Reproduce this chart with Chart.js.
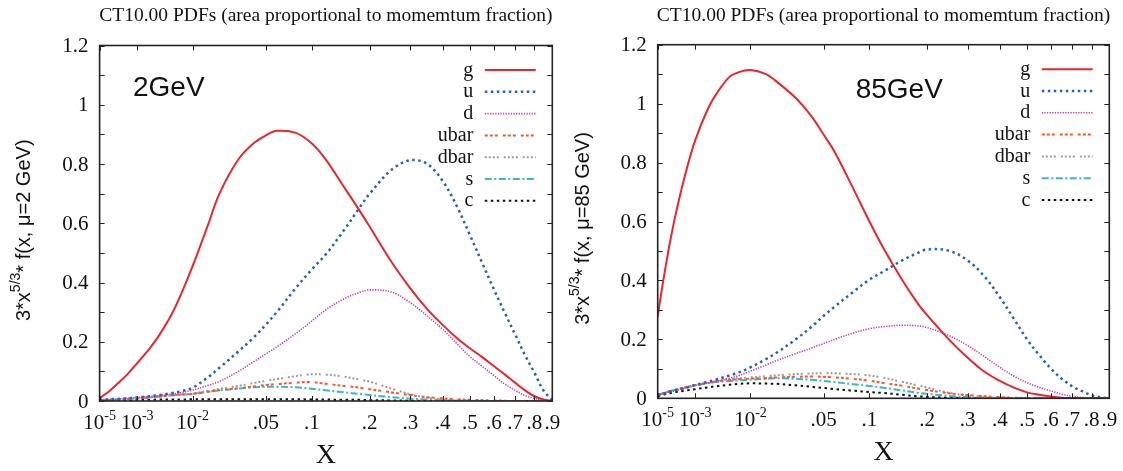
<!DOCTYPE html>
<html>
<head>
<meta charset="utf-8">
<script src="https://cdn.jsdelivr.net/npm/chart.js@4.4.1/dist/chart.umd.min.js"></script>
<style>
  body { margin: 0; background: #fff; width: 1123px; height: 471px; overflow: hidden; position: relative; }
  canvas { position: absolute; top: 0; }
</style>
</head>
<body>
<canvas id="c1" width="561" height="471" style="left:0"></canvas>
<canvas id="c2" width="562" height="471" style="left:561px"></canvas>
<script>
// momentum fraction x of the sampled points
const xs = [1e-5, 2e-5, 5e-5, 1e-4, 2e-4, 5e-4, 1e-3, 2e-3, 3e-3, 5e-3, 7e-3, 0.01, 0.015, 0.02, 0.03, 0.04, 0.05, 0.06, 0.08, 0.1,
            0.12, 0.15, 0.18, 0.2, 0.25, 0.3, 0.35, 0.4, 0.45, 0.5, 0.55, 0.6, 0.65, 0.7, 0.75, 0.8, 0.85, 0.9];

// 3*x^(5/3)*f(x) at mu = 2 GeV
const g2    = [0.009, 0.016, 0.027, 0.040, 0.058, 0.090, 0.128, 0.178, 0.218, 0.290, 0.360, 0.455, 0.590, 0.700, 0.815, 0.869, 0.897, 0.912, 0.905, 0.869,
               0.815, 0.722, 0.640, 0.588, 0.470, 0.380, 0.310, 0.257, 0.213, 0.178, 0.148, 0.118, 0.090, 0.062, 0.036, 0.016, 0.005, 0.0];
const u2    = [0.003, 0.004, 0.005, 0.006, 0.007, 0.009, 0.012, 0.016, 0.020, 0.026, 0.033, 0.045, 0.079, 0.112, 0.167, 0.213, 0.258, 0.301, 0.382, 0.444,
               0.495, 0.577, 0.655, 0.700, 0.780, 0.813, 0.800, 0.743, 0.658, 0.560, 0.466, 0.378, 0.298, 0.225, 0.155, 0.095, 0.035, 0.003];
const d2    = [0.003, 0.004, 0.005, 0.006, 0.007, 0.009, 0.012, 0.015, 0.018, 0.023, 0.028, 0.037, 0.052, 0.066, 0.100, 0.132, 0.159, 0.183, 0.228, 0.270,
               0.308, 0.345, 0.367, 0.375, 0.368, 0.332, 0.287, 0.242, 0.194, 0.150, 0.117, 0.086, 0.057, 0.036, 0.018, 0.009, 0.003, 0.0];
const ubar2 = [0.002, 0.003, 0.003, 0.004, 0.005, 0.007, 0.009, 0.012, 0.015, 0.019, 0.022, 0.024, 0.031, 0.036, 0.043, 0.049, 0.054, 0.057, 0.062, 0.064,
               0.058, 0.051, 0.045, 0.040, 0.029, 0.020, 0.013, 0.009, 0.006, 0.004, 0.003, 0.002, 0.001, 0, 0, 0, 0, 0];
const dbar2 = [0.002, 0.003, 0.003, 0.004, 0.005, 0.007, 0.009, 0.012, 0.015, 0.019, 0.022, 0.025, 0.034, 0.041, 0.051, 0.060, 0.068, 0.074, 0.084, 0.090,
               0.089, 0.082, 0.072, 0.065, 0.042, 0.023, 0.011, 0.005, 0.002, 0.001, 0, 0, 0, 0, 0, 0, 0, 0];
const s2    = [0.002, 0.003, 0.003, 0.004, 0.005, 0.007, 0.009, 0.012, 0.015, 0.019, 0.021, 0.024, 0.031, 0.036, 0.042, 0.046, 0.048, 0.048, 0.046, 0.041,
               0.036, 0.029, 0.024, 0.020, 0.013, 0.008, 0.005, 0.003, 0.002, 0.001, 0, 0, 0, 0, 0, 0, 0, 0];
const c2    = [0.001, 0.002, 0.002, 0.002, 0.003, 0.003, 0.004, 0.004, 0.005, 0.005, 0.005, 0.006, 0.006, 0.006, 0.006, 0.006, 0.006, 0.006, 0.006, 0.005,
               0.005, 0.004, 0.004, 0.003, 0.002, 0.001, 0, 0, 0, 0, 0, 0, 0, 0, 0, 0, 0, 0];

// 3*x^(5/3)*f(x) at mu = 85 GeV
const g85    = [0.277, 0.338, 0.435, 0.523, 0.620, 0.761, 0.876, 0.981, 1.033, 1.090, 1.107, 1.114, 1.101, 1.073, 1.018, 0.959, 0.895, 0.836, 0.710, 0.600,
                0.510, 0.405, 0.323, 0.282, 0.200, 0.138, 0.090, 0.059, 0.036, 0.020, 0.012, 0.006, 0.002, 0.001, 0, 0, 0, 0];
const u85    = [0.010, 0.013, 0.017, 0.022, 0.027, 0.035, 0.045, 0.056, 0.064, 0.077, 0.088, 0.105, 0.132, 0.156, 0.201, 0.241, 0.280, 0.311, 0.362, 0.403,
                0.430, 0.467, 0.493, 0.505, 0.501, 0.468, 0.413, 0.343, 0.269, 0.200, 0.146, 0.101, 0.066, 0.041, 0.024, 0.011, 0.003, 0.0];
const d85    = [0.010, 0.013, 0.017, 0.021, 0.026, 0.034, 0.043, 0.052, 0.058, 0.068, 0.077, 0.092, 0.112, 0.129, 0.152, 0.170, 0.186, 0.200, 0.222, 0.236,
                0.243, 0.248, 0.246, 0.240, 0.213, 0.179, 0.141, 0.105, 0.075, 0.053, 0.037, 0.025, 0.014, 0.007, 0.003, 0.001, 0, 0];
const ubar85 = [0.011, 0.014, 0.019, 0.024, 0.029, 0.037, 0.045, 0.052, 0.057, 0.062, 0.065, 0.067, 0.069, 0.071, 0.073, 0.074, 0.073, 0.071, 0.066, 0.060,
                0.052, 0.043, 0.033, 0.028, 0.017, 0.011, 0.007, 0.004, 0.002, 0.001, 0, 0, 0, 0, 0, 0, 0, 0];
const dbar85 = [0.011, 0.014, 0.019, 0.024, 0.029, 0.037, 0.045, 0.053, 0.058, 0.064, 0.068, 0.071, 0.075, 0.078, 0.082, 0.084, 0.085, 0.085, 0.082, 0.077,
                0.070, 0.056, 0.044, 0.037, 0.019, 0.010, 0.005, 0.002, 0.001, 0, 0, 0, 0, 0, 0, 0, 0, 0];
const s85    = [0.011, 0.014, 0.019, 0.024, 0.029, 0.037, 0.044, 0.051, 0.055, 0.059, 0.061, 0.063, 0.066, 0.068, 0.066, 0.063, 0.059, 0.055, 0.048, 0.042,
                0.036, 0.027, 0.019, 0.015, 0.008, 0.004, 0.002, 0.001, 0, 0, 0, 0, 0, 0, 0, 0, 0, 0];
const c85    = [0.008, 0.010, 0.014, 0.017, 0.021, 0.026, 0.031, 0.037, 0.041, 0.046, 0.049, 0.051, 0.050, 0.049, 0.044, 0.039, 0.035, 0.031, 0.026, 0.021,
                0.018, 0.012, 0.007, 0.005, 0.002, 0.001, 0, 0, 0, 0, 0, 0, 0, 0, 0, 0, 0, 0];

const flavours = ['g', 'u', 'd', 'ubar', 'dbar', 's', 'c'];
const xTickVals = [1e-5, 1e-3, 1e-2, 0.05, 0.1, 0.2, 0.3, 0.4, 0.5, 0.6, 0.7, 0.8, 0.9];
const xTickLabels = ['10^-5', '10^-3', '10^-2', '.05', '.1', '.2', '.3', '.4', '.5', '.6', '.7', '.8', '.9'];
const yTickVals = [0, 0.2, 0.4, 0.6, 0.8, 1, 1.2];
const yTickLabels = ['0', '0.2', '0.4', '0.6', '0.8', '1', '1.2'];
const title = 'CT10.00 PDFs (area proportional to momemtum fraction)';

const colours = ['#e8262b', '#1f62c0', '#cc3cc4', '#ff5526', '#9c9c9c', '#35b7cc', '#111111'];
const dashes  = [[], [2.5, 3.5], [1.3, 1.3], [3, 2, 3, 2, 3, 5], [2, 2, 2, 2, 2, 2, 2, 5], [7, 2.5, 2, 2.5], [2.5, 3.5]];
const widths  = [2, 2.5, 1.6, 2, 2, 2, 2];

const SERIF = '"Liberation Serif", "Times New Roman", serif';
const SANS = '"Liberation Sans", Arial, sans-serif';

// x axis is linear in x^(1/3)
const cube = v => Math.cbrt(v);

function line(ctx, x1, y1, x2, y2) { ctx.beginPath(); ctx.moveTo(x1, y1); ctx.lineTo(x2, y2); ctx.stroke(); }

// draw parts [{t, font, rise}] as one run starting at x
function rich(ctx, parts, x, y, align) {
  let w = 0;
  parts.forEach(p => { ctx.font = p.font; w += ctx.measureText(p.t).width; });
  let cx = align === 'center' ? x - w / 2 : x;
  ctx.textAlign = 'left';
  parts.forEach(p => { ctx.font = p.font; ctx.fillText(p.t, cx, y - (p.rise || 0)); cx += ctx.measureText(p.t).width; });
}

const gnuframe = {
  id: 'gnuframe',
  afterDraw(chart, args, o) {
    const { ctx, chartArea: a, scales: { x, y } } = chart;
    ctx.save();
    ctx.strokeStyle = '#222';
    ctx.fillStyle = '#111';
    ctx.lineWidth = 1;
    for (let i = 0; i <= 12; i++) {
      const py = Math.round(y.getPixelForValue(i / 10)) + 0.5;
      line(ctx, a.left, py, a.left + 5, py);
      line(ctx, a.right, py, a.right - 5, py);
    }
    xTickVals.forEach(v => {
      const px = Math.round(x.getPixelForValue(cube(v))) + 0.5;
      line(ctx, px, a.bottom, px, a.bottom - 5);
      line(ctx, px, a.top, px, a.top + 5);
    });
    ctx.lineWidth = 1.6;
    ctx.strokeRect(a.left, a.top, a.right - a.left, a.bottom - a.top);

    // tick labels
    ctx.textBaseline = 'middle';
    ctx.textAlign = 'right';
    ctx.font = '21px ' + SERIF;
    yTickVals.forEach((v, i) => ctx.fillText(yTickLabels[i], a.left - 11, y.getPixelForValue(v) + 1));
    ctx.textBaseline = 'alphabetic';
    xTickVals.forEach((v, i) => {
      const px = x.getPixelForValue(cube(v));
      const [b, e] = xTickLabels[i].split('^');
      const parts = [{ t: b, font: '21px ' + SERIF }];
      if (e) parts.push({ t: e, font: '14px ' + SERIF, rise: 9 });
      rich(ctx, parts, px, a.bottom + 28, 'center');
    });

    // titles
    const mid = (a.left + a.right) / 2;
    ctx.font = '19.5px ' + SERIF;
    ctx.textAlign = 'center';
    ctx.fillText(title, mid, 21);
    ctx.font = '28px ' + SERIF;
    ctx.fillText('X', mid, a.bottom + 62);

    ctx.save();
    ctx.translate(o.ytitleX, (a.top + a.bottom) / 2 + 7);
    ctx.rotate(-Math.PI / 2);
    ctx.textBaseline = 'middle';
    rich(ctx, [
      { t: '3*x', font: '20px ' + SANS },
      { t: '5/3', font: '14px ' + SANS, rise: 8 },
      { t: '* f(x, \u03bc=' + o.mu + ' GeV)', font: '20px ' + SANS }
    ], 0, 0, 'center');
    ctx.restore();

    // scale label
    ctx.textAlign = 'left';
    ctx.font = '28px ' + SANS;
    ctx.fillText(o.label, a.left + o.labelDx, a.top + o.labelDy);

    // key
    chart.data.datasets.forEach((ds, i) => {
      const ry = a.top + 24.5 + i * 21.8;
      ctx.font = '20px ' + SERIF;
      ctx.textAlign = 'right';
      ctx.fillStyle = '#111';
      ctx.fillText(ds.label, a.right - 79, ry + 5.5);
      ctx.strokeStyle = ds.borderColor;
      ctx.lineWidth = ds.borderWidth;
      ctx.setLineDash(ds.borderDash);
      line(ctx, a.right - 67.5, ry, a.right - 16.6, ry);
      ctx.setLineDash([]);
    });
    ctx.restore();
  }
};

function makeChart(id, series, pad, opts) {
  return new Chart(document.getElementById(id), {
    type: 'line',
    data: {
      datasets: flavours.map((f, k) => ({
        label: f,
        data: xs.map((v, i) => ({ x: cube(v), y: series[k][i] })),
        borderColor: colours[k],
        borderWidth: widths[k],
        borderDash: dashes[k],
        borderCapStyle: 'butt',
        pointRadius: 0,
        fill: false,
        tension: 0.35
      }))
    },
    options: {
      responsive: false,
      animation: false,
      layout: { padding: pad },
      scales: {
        x: { type: 'linear', display: false, min: cube(1e-5), max: cube(0.9) },
        y: { display: false, min: 0, max: 1.2 }
      },
      plugins: { legend: { display: false }, tooltip: { enabled: false }, gnuframe: opts }
    },
    plugins: [gnuframe]
  });
}

makeChart('c1', [g2, u2, d2, ubar2, dbar2, s2, c2],
  { left: 99.6, right: 8.7, top: 45.5, bottom: 70 },
  { mu: '2', label: '2GeV', labelDx: 33.4, labelDy: 50.2, ytitleX: 24 });
makeChart('c2', [g85, u85, d85, ubar85, dbar85, s85, c85],
  { left: 96.7, right: 13.7, top: 44.7, bottom: 72.7 },
  { mu: '85', label: '85GeV', labelDx: 198, labelDy: 53.6, ytitleX: 22 });
</script>
</body>
</html>
